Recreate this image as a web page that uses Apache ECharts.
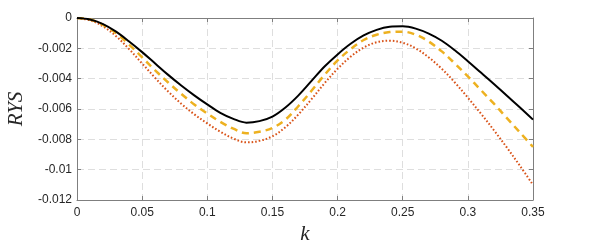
<!DOCTYPE html>
<html>
<head>
<meta charset="utf-8">
<script src="https://cdn.jsdelivr.net/npm/echarts@6/dist/echarts.min.js"></script>
<style>html,body{margin:0;padding:0;background:#fff;}#c{width:589px;height:245px;}</style>
</head>
<body>
<div id="c"></div>
<script>
var kValues = [0,0.01,0.02,0.03,0.04,0.05,0.06,0.07,0.08,0.09,0.10,0.11,0.12,0.13,0.14,0.15,0.16,0.17,0.18,0.19,0.20,0.21,0.22,0.23,0.24,0.25,0.26,0.27,0.28,0.29,0.30,0.31,0.32,0.33,0.34,0.35];
var solidSeries = [0,-0.0001,-0.0004,-0.0009,-0.00155,-0.00225,-0.0030,-0.00375,-0.00445,-0.0051,-0.0057,-0.00625,-0.00665,-0.0069,-0.0068,-0.0065,-0.0059,-0.0051,-0.00415,-0.0032,-0.0024,-0.0017,-0.00115,-0.00078,-0.00058,-0.00055,-0.0007,-0.00103,-0.0015,-0.00213,-0.00285,-0.0036,-0.00435,-0.00513,-0.0059,-0.0067];
var dashedSeries = [0,-0.0001,-0.00045,-0.001,-0.00175,-0.0026,-0.00345,-0.00425,-0.005,-0.0057,-0.0063,-0.00685,-0.0073,-0.0076,-0.0075,-0.00725,-0.0067,-0.0058,-0.0048,-0.00375,-0.0028,-0.00205,-0.00145,-0.0011,-0.00093,-0.0009,-0.0011,-0.00155,-0.0022,-0.003,-0.00385,-0.00475,-0.00565,-0.0066,-0.00755,-0.0085];
var dottedSeries = [0,-0.00015,-0.00055,-0.0012,-0.00205,-0.003,-0.00395,-0.00485,-0.00565,-0.00635,-0.00695,-0.0075,-0.00795,-0.0082,-0.0081,-0.0078,-0.0072,-0.00635,-0.00535,-0.0043,-0.00335,-0.00255,-0.00195,-0.0016,-0.0015,-0.00163,-0.002,-0.0026,-0.00335,-0.00425,-0.00525,-0.0063,-0.0074,-0.00855,-0.00975,-0.011];
var xTicks = [0,0.05,0.1,0.15,0.2,0.25,0.3,0.35];
var yTicks = [0,-0.002,-0.004,-0.006,-0.008,-0.01,-0.012];
var xLabel = 'k';
var yLabel = 'RYS';

function pairs(ys){ return kValues.map(function(k,i){ return [k, ys[i]]; }); }

var chart = echarts.init(document.getElementById('c'), null, {renderer:'canvas'});
var tickFont = {fontFamily:'Liberation Sans, Arial, sans-serif', fontSize:12, color:'#262626'};
var axisCol = '#7f7f7f';
var gridLine = {show:true, lineStyle:{color:'#dedede', type:[7,4], width:1}};
chart.setOption({
  animation:false,
  grid:{left:77, right:56, top:18, bottom:45, show:false, containLabel:false, outerBoundsMode:'none'},
  xAxis:[{
    type:'value', min:xTicks[0], max:xTicks[xTicks.length-1], interval:0.05, position:'bottom',
    axisLine:{show:true, onZero:false, lineStyle:{color:axisCol, width:1}},
    axisTick:{show:true, inside:true, length:4, lineStyle:{color:axisCol}},
    axisLabel:Object.assign({margin:7, formatter:function(v){ return String(+v.toFixed(2)); }}, tickFont),
    splitLine:gridLine,
    name:xLabel, nameLocation:'middle', nameGap:24,
    nameTextStyle:{fontFamily:'Liberation Serif, Times New Roman, serif', fontStyle:'italic', fontSize:21, color:'#262626'}
  },{
    type:'value', min:xTicks[0], max:xTicks[xTicks.length-1], interval:0.05, position:'top',
    axisLine:{show:true, onZero:false, lineStyle:{color:axisCol, width:1}},
    axisTick:{show:true, inside:true, length:4, lineStyle:{color:axisCol}},
    axisLabel:{show:false}, splitLine:{show:false}
  }],
  yAxis:[{
    type:'value', min:yTicks[yTicks.length-1], max:yTicks[0], interval:0.002, position:'left',
    axisLine:{show:true, onZero:false, lineStyle:{color:axisCol, width:1}},
    axisTick:{show:true, inside:true, length:4, lineStyle:{color:axisCol}},
    axisLabel:Object.assign({margin:5, formatter:function(v){ return String(+v.toFixed(3)); }}, tickFont),
    splitLine:gridLine,
    name:yLabel, nameLocation:'middle', nameGap:45, nameRotate:90,
    nameTextStyle:{fontFamily:'Liberation Serif, Times New Roman, serif', fontStyle:'italic', fontSize:21, color:'#262626'}
  },{
    type:'value', min:yTicks[yTicks.length-1], max:yTicks[0], interval:0.002, position:'right',
    axisLine:{show:true, onZero:false, lineStyle:{color:axisCol, width:1}},
    axisTick:{show:true, inside:true, length:4, lineStyle:{color:axisCol}},
    axisLabel:{show:false}, splitLine:{show:false}
  }],
  series:[
    {type:'line', data:pairs(dottedSeries), smooth:0.35, showSymbol:false, symbol:'none',
     lineStyle:{color:'#D95319', width:2, type:[1.6,2]}},
    {type:'line', data:pairs(dashedSeries), smooth:0.35, showSymbol:false, symbol:'none',
     lineStyle:{color:'#EDB120', width:2.5, type:[7,5]}},
    {type:'line', data:pairs(solidSeries), smooth:0.35, showSymbol:false, symbol:'none',
     lineStyle:{color:'#000000', width:2}}
  ]
});
</script>
</body>
</html>
